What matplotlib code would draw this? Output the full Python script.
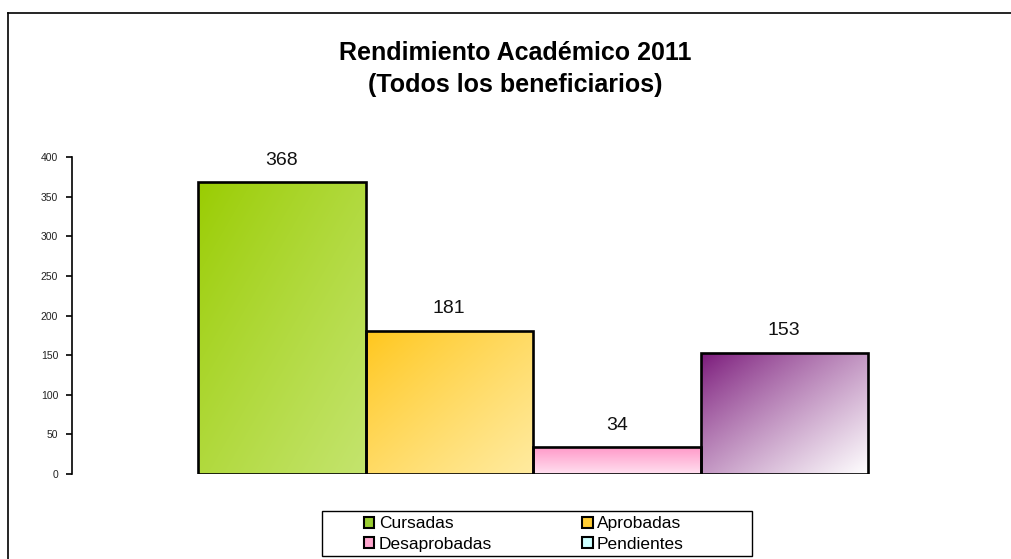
import numpy as np
import matplotlib
matplotlib.use("Agg")
import matplotlib.pyplot as plt
from matplotlib.patches import Rectangle, Patch
from matplotlib.lines import Line2D
from matplotlib.colors import to_rgb

categories = ["Cursadas", "Aprobadas", "Desaprobadas", "Pendientes"]
values = [368, 181, 34, 153]
legend_colors = ["#9ACD32", "#FFCC33", "#FFA6CF", "#CCFFFF"]
grad_start = ["#99CC00", "#FFC61A", "#FF99C8", "#781578"]
grad_end = ["#C4E46E", "#FFEBA0", "#FFE0F0", "#FFFFFF"]
grad_dir = ["diag", "diag", "vert", "diag"]
yticks = [0, 50, 100, 150, 200, 250, 300, 350, 400]

plt.rcParams['font.family'] = ['Liberation Sans', 'DejaVu Sans']

W, H = 1011, 559
fig = plt.figure(figsize=(W / 100, H / 100), dpi=100)

ax_left, ax_right = 72, 995
ax_top, ax_bottom = 157, 474
ax = fig.add_axes([ax_left / W, (H - ax_bottom) / H, (ax_right - ax_left) / W, (ax_bottom - ax_top) / H])

bar_l, bar_r = 198, 868
ppu = (bar_r - bar_l) / len(values)
x0 = -0.5 - (bar_l - ax_left) / ppu
x1 = len(values) - 0.5 + (ax_right - bar_r) / ppu

xs = np.arange(len(values))
bars = ax.bar(xs, values, width=1.0, color="none", edgecolor="black", linewidth=1.9, zorder=3)

n = 200
gx, gy = np.meshgrid(np.linspace(0, 1, n), np.linspace(0, 1, n))
for b, c0, c1, d in zip(bars, grad_start, grad_end, grad_dir):
    if d == "diag":
        t = np.clip((gx + gy) / 2.0, 0, 1) ** 0.85
    else:
        t = gy
    t = t[..., None]
    img = (1 - t) * np.array(to_rgb(c0)) + t * np.array(to_rgb(c1))
    bx, by = b.get_x(), b.get_y()
    bw, bh = b.get_width(), b.get_height()
    im = ax.imshow(img, extent=[bx, bx + bw, by, by + bh], origin="upper",
                   aspect="auto", zorder=2, interpolation="bilinear")
    im.set_clip_path(Rectangle((bx, by), bw, bh, transform=ax.transData))

ax.set_xlim(x0, x1)
ax.set_ylim(0, 400)

for xi, v in zip(xs, values):
    ax.text(xi, v + 17, str(v), ha="center", va="bottom", fontsize=14, color="#111111")

for s in ["top", "right", "bottom"]:
    ax.spines[s].set_visible(False)
ax.spines["left"].set_linewidth(1.2)
ax.set_xticks([])
ax.set_yticks(yticks)
ax.set_yticklabels([str(t) for t in yticks])
ax.tick_params(axis="y", length=4, width=1.2, labelsize=7.5, labelcolor="#222222", pad=6)

fig.text(515 / W, 1 - 53 / H, "Rendimiento Académico 2011", ha="center", va="center",
         fontsize=18, fontweight="bold")
fig.text(515 / W, 1 - 85 / H, "(Todos los beneficiarios)", ha="center", va="center",
         fontsize=18, fontweight="bold")

# legend (row-wise order as in the reference)
order = [0, 2, 1, 3]
handles = [Patch(facecolor=legend_colors[i], edgecolor="black", linewidth=1.5) for i in order]
labels = [categories[i] for i in order]
leg = fig.legend(handles, labels, ncol=2, loc="center left",
                 bbox_to_anchor=(364 / W, 1 - 534 / H),
                 fontsize=12.5, frameon=False, handlelength=0.6,
                 handleheight=0.6, handletextpad=0.25, borderpad=0.0, borderaxespad=0.0,
                 labelspacing=0.32, columnspacing=5.2)
fig.add_artist(Rectangle((322 / W, 1 - 556 / H), 430 / W, 45 / H, transform=fig.transFigure,
                         facecolor="none", edgecolor="black", linewidth=1.0))

fig.add_artist(Line2D([8 / W, 1.0], [1 - 13 / H, 1 - 13 / H], color="black", linewidth=1.2,
                      transform=fig.transFigure))
fig.add_artist(Line2D([8 / W, 8 / W], [1 - 13 / H, 0.0], color="black", linewidth=1.2,
                      transform=fig.transFigure))

fig.savefig("out.png", dpi=100)
